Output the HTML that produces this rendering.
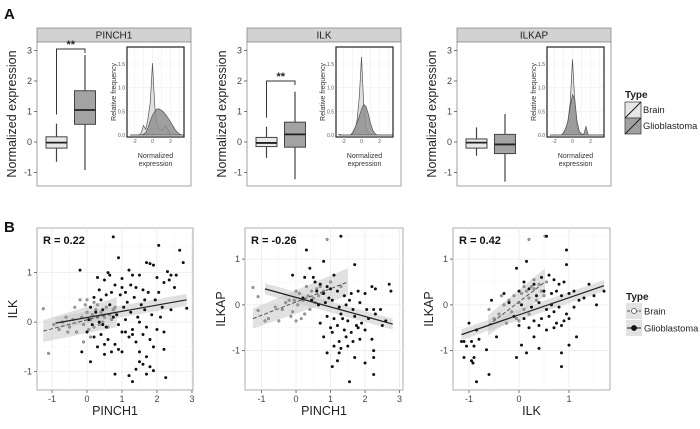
<!DOCTYPE html>
<html><head><meta charset="utf-8">
<style>
html,body{margin:0;padding:0;background:#fff;}
svg{display:block;font-family:"Liberation Sans",Arial,sans-serif;}
</style></head>
<body>
<svg id="fig" width="700" height="429" viewBox="0 0 700 429" xmlns="http://www.w3.org/2000/svg"></svg>
<script>
// ---------- DATA ----------
const boxGenes = ["PINCH1","ILK","ILKAP"];
// [lowWhisker, q1, median, q3, highWhisker]
const brainBox = [[-0.65,-0.2,-0.02,0.17,0.6],[-0.52,-0.15,-0.03,0.15,0.5],[-0.45,-0.2,-0.02,0.1,0.48]];
const glioBox  = [[-0.92,0.58,1.05,1.68,2.85],[-1.22,-0.17,0.25,0.65,1.65],[-1.3,-0.38,-0.08,0.25,0.92]];
const sigLabels = ["**","**",""];
const bracketTop = [3.05,2.0,null];
const yTicksBox = [-1,0,1,2,3];
// density insets
const densX = [-2.5,-2.25,-2,-1.75,-1.5,-1.25,-1,-0.75,-0.5,-0.25,0,0.25,0.5,0.75,1,1.25,1.5,1.75,2,2.25,2.5,2.75,3,3.25,3.5];
const densBrain = [
 [0,0,0,0,0,0.05,0.2,0.12,0.35,0.7,1.52,0.6,0.2,0.12,0.1,0.15,0.2,0.1,0,0,0,0,0,0,0],
 [0.02,0,0,0,0,0,0.02,0.1,0.3,0.8,1.65,0.6,0.15,0.05,0,0,0,0,0,0,0,0,0,0,0],
 [0,0,0,0,0,0,0.02,0.1,0.3,0.7,1.6,0.7,0.15,0.03,0,0,0,0,0,0,0,0,0,0,0]];
const densGlio = [
 [0,0,0,0,0,0,0.02,0.05,0.15,0.3,0.42,0.5,0.55,0.55,0.52,0.48,0.42,0.35,0.28,0.2,0.12,0.06,0.02,0,0],
 [0,0,0,0,0,0,0.05,0.15,0.25,0.4,0.55,0.65,0.6,0.45,0.25,0.1,0.03,0,0,0,0,0,0,0,0],
 [0,0,0,0,0,0,0.05,0.15,0.3,0.6,0.85,0.75,0.3,0.08,0.02,0.02,0.18,0,0,0,0,0,0,0,0]];
const densYTicks = ["0.0","0.5","1.0","1.5"];
const densXTicks = [-2,0,2];

// scatter panels
const scatXLabels = ["PINCH1","PINCH1","ILK"];
const scatYLabels = ["ILK","ILKAP","ILKAP"];
const scatR = ["R = 0.22","R = -0.26","R = 0.42"];
const scatXTicks = [[-1,0,1,2,3],[-1,0,1,2,3],[-1,0,1]];
const scatYTicks = [[-1,0,1],[-1,0,1],[-1,0,1]];
const glio1 = [[0.75,1.72],[1.8,1.18],[2.65,1.45],[2.75,1.2],[2.05,1.55],[2.3,1.02],[0.9,1.3],[1.2,1.05],[1.5,0.95],[1.7,1.2],[1.9,1.15],[0.3,0.9],[0.5,0.85],[0.6,1.0],[0.8,0.75],[1.0,0.88],[1.1,0.6],[1.3,0.95],[1.4,0.7],[1.6,0.65],[2.0,0.9],[2.2,0.8],[2.4,0.95],[2.5,0.7],[0.2,0.5],[0.4,0.45],[0.7,0.6],[0.95,0.55],[1.15,0.4],[1.35,0.5],[1.55,0.35],[1.75,0.6],[1.95,0.45],[2.15,0.3],[2.35,0.85],[0.1,0.3],[0.25,0.2],[0.45,0.25],[0.65,0.35],[0.85,0.15],[1.05,0.3],[1.25,0.2],[1.45,0.1],[1.65,0.25],[1.85,0.15],[0.05,0.05],[0.15,-0.05],[0.35,0.0],[0.55,-0.1],[0.75,0.1],[0.9,-0.05],[1.1,0.05],[1.3,-0.15],[1.5,0.0],[1.7,-0.1],[2.1,0.1],[2.4,0.25],[2.85,0.28],[0.0,-0.2],[0.2,-0.3],[0.4,-0.25],[0.6,-0.35],[0.8,-0.45],[1.0,-0.2],[1.2,-0.3],[1.4,-0.4],[1.6,-0.25],[1.8,-0.35],[2.0,-0.15],[0.3,-0.5],[0.5,-0.45],[0.7,-0.6],[0.9,-0.55],[1.1,-0.2],[1.3,-0.25],[1.5,-0.6],[1.7,-0.7],[1.9,-0.5],[2.2,-0.55],[1.2,-1.08],[1.4,-0.95],[1.6,-0.85],[1.8,-0.9],[1.3,-1.2],[1.5,-0.8],[1.7,-1.05],[0.8,-1.05],[1.9,-0.98],[2.25,-1.12],[1.0,-0.6],[0.1,-0.8],[0.5,-0.65],[-0.2,1.05],[-0.15,-0.6],[0.35,0.65],[0.55,0.55],[1.0,0.7],[2.05,0.6],[2.55,0.95],[1.25,0.75],[0.65,0.95],[0.45,-0.05],[1.65,0.45],[2.2,-0.2]];
const brain1 = [[-1.25,0.27],[-1.1,-0.63],[-0.95,-0.05],[-0.8,-0.15],[-0.7,0.0],[-0.6,0.1],[-0.5,-0.1],[-0.4,0.05],[-0.3,-0.2],[-0.2,0.45],[-0.15,0.1],[-0.1,-0.05],[0.0,0.2],[0.05,-0.15],[0.1,0.05],[0.15,0.15],[0.2,-0.1],[0.25,0.25],[0.3,0.1],[0.35,-0.05],[0.4,0.2],[0.45,0.0],[0.5,0.1],[0.55,0.3],[0.6,-0.1],[0.65,0.15],[0.7,0.05],[0.75,0.25],[0.8,0.3],[-0.05,0.35],[0.1,-0.3],[0.3,0.35],[-0.35,0.3],[-0.55,-0.2],[0.2,0.4],[-0.1,-0.4],[0.0,0.45]];
const glio2 = [[1.3,1.5],[0.3,1.2],[0.8,0.95],[1.7,0.88],[-0.1,0.65],[0.4,0.8],[0.25,0.6],[0.55,0.5],[0.7,0.45],[0.9,0.4],[1.1,0.65],[1.2,0.3],[0.6,0.3],[0.8,0.25],[1.0,0.35],[1.4,0.2],[1.6,0.25],[1.8,0.3],[2.0,0.25],[2.2,0.4],[2.3,0.35],[2.7,0.45],[2.75,0.3],[0.2,0.15],[0.45,0.1],[0.65,0.0],[0.85,0.05],[1.05,0.1],[1.25,-0.05],[1.45,0.0],[1.65,-0.1],[1.85,0.05],[2.05,-0.1],[2.25,-0.1],[2.45,-0.1],[2.6,-0.35],[0.9,-0.25],[1.1,-0.3],[1.3,-0.2],[1.5,-0.35],[1.7,-0.25],[1.9,-0.4],[2.1,-0.3],[2.3,-0.2],[2.5,-0.45],[0.7,-0.4],[1.0,-0.5],[1.2,-0.45],[1.4,-0.55],[1.6,-0.6],[1.8,-0.5],[2.0,-0.55],[2.2,-0.75],[0.8,-0.7],[1.05,-0.6],[1.25,-0.8],[1.45,-0.7],[1.65,-0.8],[1.85,-0.75],[1.1,-0.9],[1.3,-0.95],[1.5,-0.9],[1.7,-1.15],[2.25,-1.0],[0.9,-1.05],[1.25,-1.05],[1.2,-1.22],[2.25,-1.15],[1.05,-1.35],[1.55,-1.68],[2.0,-1.27],[2.25,-1.52],[1.35,-0.3],[1.55,0.1],[0.95,0.15],[1.75,-0.45],[0.5,0.6]];
const brain2 = [[-1.25,0.38],[-1.1,0.18],[-1.1,-0.12],[-0.9,-0.35],[-0.8,-0.3],[-0.6,-0.05],[-0.5,-0.35],[-0.4,-0.1],[-0.3,0.05],[-0.2,0.1],[-0.1,-0.15],[0.0,0.3],[0.0,-0.35],[0.05,0.0],[0.1,0.25],[0.15,-0.3],[0.2,0.1],[0.3,0.4],[0.35,0.2],[0.4,-0.1],[0.45,0.3],[0.5,0.15],[0.6,0.35],[0.65,0.2],[0.7,0.4],[0.75,0.25],[0.8,0.3],[0.9,1.43],[1.0,0.5],[1.3,0.4],[-0.05,0.1],[0.25,-0.2],[0.55,0.05],[-0.15,-0.25]];
const glio3 = [[0.55,1.5],[0.95,1.2],[0.95,0.88],[0.15,0.95],[-0.05,0.8],[0.1,0.5],[0.3,0.45],[0.45,0.6],[0.6,0.65],[0.7,0.55],[0.8,0.45],[0.9,0.5],[0.0,0.3],[0.2,0.35],[0.35,0.2],[0.5,0.3],[0.65,0.25],[0.75,0.3],[0.85,0.2],[1.0,0.25],[1.1,0.3],[1.2,0.1],[1.3,0.15],[1.4,0.45],[1.5,0.2],[1.7,0.3],[-0.3,0.25],[-0.55,0.1],[-0.2,0.05],[0.05,0.0],[0.25,-0.05],[0.4,0.05],[0.55,-0.1],[0.7,-0.15],[0.8,-0.05],[0.95,-0.2],[1.1,-0.05],[-0.1,-0.25],[0.1,-0.3],[0.3,-0.35],[0.45,-0.3],[0.6,-0.25],[0.75,-0.4],[0.9,-0.35],[1.0,-0.3],[0.2,-0.5],[0.4,-0.45],[0.55,-0.55],[0.7,-0.5],[0.85,-0.45],[-0.45,-0.7],[0.3,-0.7],[1.15,-0.7],[-0.8,-0.75],[-0.95,-0.8],[-1.1,-0.8],[-1.15,-0.8],[-1.0,-0.4],[-0.85,-0.55],[-0.9,-0.9],[-1.05,-0.9],[-1.1,-1.15],[-0.9,-1.15],[-0.95,-1.22],[-0.92,-1.27],[-0.65,-0.98],[-0.85,-1.68],[-0.6,-1.52],[-0.05,-1.15],[0.05,-0.88],[0.15,-1.05],[0.4,-0.95],[0.85,-1.05],[0.85,-1.35],[1.0,-0.88],[1.55,0.0],[0.65,0.0],[0.0,-0.45]];
const brain3 = [[0.2,1.43],[0.52,1.5],[-0.6,-0.1],[-0.5,-0.3],[-0.4,-0.2],[-0.3,0.0],[-0.2,0.1],[-0.15,-0.15],[-0.1,0.2],[-0.05,-0.3],[0.0,0.05],[0.05,0.25],[0.1,-0.1],[0.15,0.3],[0.2,0.15],[0.25,0.4],[0.3,0.35],[0.35,0.1],[0.4,0.45],[0.45,0.3],[0.5,0.2],[0.55,0.5],[-0.25,-0.4],[0.0,-0.35],[0.1,0.4],[0.3,0.55],[-0.35,0.2],[0.2,-0.2]];
// fit lines [x0,y0,x1,y1]
const fitGlio = [[-0.9,-0.02,2.85,0.45],[-0.9,0.35,2.8,-0.42],[-1.15,-0.65,1.7,0.42]];
const fitBrain = [[-1.25,-0.18,0.85,0.2],[-1.25,-0.3,1.5,0.5],[-0.62,-0.45,0.52,0.5]];

// ---------- HELPERS ----------
const NS="http://www.w3.org/2000/svg";
const svg=document.getElementById('fig');
function el(tag,attrs,parent,text){const e=document.createElementNS(NS,tag);for(const k in attrs)e.setAttribute(k,attrs[k]);if(text!==undefined)e.textContent=text;(parent||svg).appendChild(e);return e;}
function lin(d0,d1,r0,r1){return v=>r0+(v-d0)*(r1-r0)/(d1-d0);}

let t=el('text',{x:4,y:19,'font-size':15,'font-weight':'bold',fill:'#111'},svg,'A');


t=el('text',{x:4,y:232,'font-size':15,'font-weight':'bold',fill:'#111'},svg,'B');



// ---------- BOX PANELS ----------
const boxPanelX=[37,247,457];
const insetX=[127,336,547];
boxGenes.forEach((g,i)=>{
  const px=boxPanelX[i], pw=154, top=42, bot=186;
  const grp=el('g',{});
  
  
  const y=lin(0,1,142,111.5);
  let h=el('rect',{x:px,y:28,width:pw,height:14,fill:'#d2d2d2',stroke:'#8a8a8a','stroke-width':0.8},grp);
  
  
  let ht=el('text',{x:px+pw/2,y:38.5,'font-size':10,'text-anchor':'middle',fill:'#222'},grp,g);
  
  
  el('rect',{x:px,y:top,width:pw,height:bot-top,fill:'#fff',stroke:'#8a8a8a','stroke-width':0.8},grp);
  yTicksBox.forEach(v=>{
    el('line',{x1:px-3,x2:px,y1:y(v),y2:y(v),stroke:'#555','stroke-width':0.8},grp);
    const tl=el('text',{x:px-5,y:y(v)+3,'font-size':9,'text-anchor':'end',fill:'#444'},grp,String(v));
    
    
  });
  const yl=el('text',{transform:`translate(${px-21},${114}) rotate(-90)`,'font-size':12.5,'text-anchor':'middle',fill:'#222'},grp,'Normalized expression');
  
  
  const centers=[px+19.5,px+48];
  [[brainBox[i],'#e8e8e8','brain'],[glioBox[i],'#a3a3a3','glioblastoma']].forEach(([b,fill,nm],k)=>{
    const cx=centers[k], w=21;
    const bg=el('g',{},grp);
    
    
    el('line',{x1:cx,x2:cx,y1:y(b[0]),y2:y(b[4]),stroke:'#444','stroke-width':1.2},bg);
    el('rect',{x:cx-w/2,y:y(b[3]),width:w,height:y(b[1])-y(b[3]),fill:fill,stroke:'#444','stroke-width':1},bg);
    el('line',{x1:cx-w/2,x2:cx+w/2,y1:y(b[2]),y2:y(b[2]),stroke:'#222','stroke-width':1.8},bg);
  });
  if(bracketTop[i]!==null){
    const bt=y(bracketTop[i]);
    const br=el('path',{d:`M${centers[0]},${y(brainBox[i][4]+0.3)} V${bt} H${centers[1]} V${bt+4}`,fill:'none',stroke:'#333','stroke-width':1},grp);
    
    
    const st=el('text',{x:(centers[0]+centers[1])/2,y:bt-1,'font-size':11,'font-weight':'bold','text-anchor':'middle',fill:'#222'},grp,sigLabels[i]);
    
    
  }
  const ix=insetX[i], iw=57, it=47, ib=137;
  const ig=el('g',{},grp);
  
  
  const dx=lin(0,2,152.5-127+ix,170.5-127+ix), dy=lin(0,1.5,135,64);
  el('rect',{x:ix,y:it,width:iw,height:ib-it,fill:'#fff'},ig);
  [-2,-1,0,1,2,3].forEach(v=>el('line',{x1:dx(v),x2:dx(v),y1:it,y2:ib,stroke:'#eee','stroke-width':0.6},ig));
  [0,0.5,1,1.5].forEach(v=>el('line',{x1:ix,x2:ix+iw,y1:dy(v),y2:dy(v),stroke:'#eee','stroke-width':0.6},ig));
  [[densBrain[i],'#dcdcdc','brain'],[densGlio[i],'#8f8f8f','glioblastoma']].forEach(([d,f,nm])=>{
    let p=`M${dx(densX[0])},${dy(0)}`;
    densX.forEach((xv,j)=>{p+=` L${dx(xv).toFixed(1)},${dy(d[j]).toFixed(1)}`;});
    p+=` L${dx(densX[densX.length-1])},${dy(0)} Z`;
    const a=el('path',{d:p,fill:f,'fill-opacity':0.85,stroke:'#555','stroke-width':0.7},ig);
    
    
  });
  el('rect',{x:ix,y:it,width:iw,height:ib-it,fill:'none',stroke:'#222','stroke-width':1.2},ig);
  densYTicks.forEach(s=>{const tl=el('text',{x:ix-2,y:dy(+s)+2,'font-size':5,'text-anchor':'end',fill:'#555'},ig,s);
    
    });
  densXTicks.forEach(v=>{const tl=el('text',{x:dx(v),y:ib+6,'font-size':5,'text-anchor':'middle',fill:'#555'},ig,String(v));
    
    });
  let a1=el('text',{transform:`translate(${ix-11},${(it+ib)/2}) rotate(-90)`,'font-size':7,'text-anchor':'middle',fill:'#333'},ig,'Relative frequency');
  
  
  let a2=el('text',{x:ix+iw/2,y:ib+21,'font-size':7,'text-anchor':'middle',fill:'#333'},ig,'Normalized');
  
  
  let a3=el('text',{x:ix+iw/2,y:ib+29,'font-size':7,'text-anchor':'middle',fill:'#333'},ig,'expression');
  
  
});

// legend A
(function(){
  const g=el('g',{});
  
  
  el('text',{x:625,y:98,'font-size':10,'font-weight':'bold',fill:'#222'},g,'Type');
  [['Brain','#e6e6e6',102],['Glioblastoma','#a0a0a0',118]].forEach(([n,f,yy])=>{
    const e=el('g',{},g);
    
    
    el('rect',{x:625,y:yy,width:16,height:16,fill:f,stroke:'#444','stroke-width':0.8},e);
    el('line',{x1:625,y1:yy+16,x2:641,y2:yy,stroke:'#222','stroke-width':1},e);
    el('text',{x:643,y:yy+11,'font-size':9.3,fill:'#222'},e,n);
  });
})();

// ---------- SCATTER PANELS ----------
const scat=[
 {l:37,r:193,xd:[-1.43,3.03],yd:[-1.37,1.9],glio:glio1,brain:brain1},
 {l:245,r:403,xd:[-1.48,3.1],yd:[-1.86,1.68],glio:glio2,brain:brain2},
 {l:453,r:610,xd:[-1.32,1.82],yd:[-1.86,1.68],glio:glio3,brain:brain3}];
scat.forEach((s,i)=>{
  const top=228,bot=390;
  const x=lin(s.xd[0],s.xd[1],s.l,s.r), y=lin(s.yd[0],s.yd[1],bot,top);
  const g=el('g',{});
  
  
  el('rect',{x:s.l,y:top,width:s.r-s.l,height:bot-top,fill:'#fff',stroke:'#999','stroke-width':0.8},g);
  scatXTicks[i].forEach(v=>{
    el('line',{x1:x(v),x2:x(v),y1:top,y2:bot,stroke:'#e8e8e8','stroke-width':0.7},g);
    if(v+0.5<s.xd[1]) el('line',{x1:x(v+0.5),x2:x(v+0.5),y1:top,y2:bot,stroke:'#f3f3f3','stroke-width':0.5},g);
    el('line',{x1:x(v),x2:x(v),y1:bot,y2:bot+3,stroke:'#555','stroke-width':0.8},g);
    const tl=el('text',{x:x(v),y:bot+12,'font-size':9,'text-anchor':'middle',fill:'#444'},g,String(v));
    
    
  });
  scatYTicks[i].forEach(v=>{
    el('line',{x1:s.l,x2:s.r,y1:y(v),y2:y(v),stroke:'#e8e8e8','stroke-width':0.7},g);
    el('line',{x1:s.l,x2:s.r,y1:y(v+0.5),y2:y(v+0.5),stroke:'#f3f3f3','stroke-width':0.5},g);
    el('line',{x1:s.l-3,x2:s.l,y1:y(v),y2:y(v),stroke:'#555','stroke-width':0.8},g);
    const tl=el('text',{x:s.l-5,y:y(v)+3,'font-size':9,'text-anchor':'end',fill:'#444'},g,String(v));
    
    
  });
  const fb=fitBrain[i], fg=fitGlio[i];
  const band=(f,w0,w1,nm)=>{const b=el('path',{d:`M${x(f[0])},${y(f[1]+w0)} L${x(f[2])},${y(f[3]+w1)} L${x(f[2])},${y(f[3]-w1)} L${x(f[0])},${y(f[1]-w0)} Z`,fill:'#c8c8c8','fill-opacity':0.55},g);
    
    };
  band(fb,0.22,0.3,'brain'); band(fg,0.12,0.12,'glioblastoma');
  s.brain.forEach(p=>{const c=el('circle',{cx:x(p[0]),cy:y(p[1]),r:1.4,fill:'#999',stroke:'#777','stroke-width':0.4},g);
    
    });
  s.glio.forEach(p=>{const c=el('circle',{cx:x(p[0]),cy:y(p[1]),r:1.5,fill:'#111'},g);
    
    });
  let lb=el('line',{x1:x(fb[0]),y1:y(fb[1]),x2:x(fb[2]),y2:y(fb[3]),stroke:'#555','stroke-width':1,'stroke-dasharray':'4,2'},g);
  
  
  let lg=el('line',{x1:x(fg[0]),y1:y(fg[1]),x2:x(fg[2]),y2:y(fg[3]),stroke:'#222','stroke-width':1.2},g);
  
  
  let rt=el('text',{x:s.l+6,y:top+16,'font-size':11,'font-weight':'bold',fill:'#111'},g,scatR[i]);
  
  
  let xt=el('text',{x:(s.l+s.r)/2,y:bot+25,'font-size':12.5,'text-anchor':'middle',fill:'#222'},g,scatXLabels[i]);
  
  
  let yt=el('text',{transform:`translate(${s.l-20},${(top+bot)/2}) rotate(-90)`,'font-size':12.5,'text-anchor':'middle',fill:'#222'},g,scatYLabels[i]);
  
  
});

// legend B
(function(){
  const g=el('g',{});
  
  
  el('text',{x:626,y:300,'font-size':10,'font-weight':'bold',fill:'#222'},g,'Type');
  [['Brain',303,true],['Glioblastoma',320,false]].forEach(([n,yy,open])=>{
    const e=el('g',{},g);
    
    
    el('rect',{x:626,y:yy,width:16,height:16,fill:'#e2e2e2'},e);
    el('line',{x1:627,x2:641,y1:yy+8,y2:yy+8,stroke:open?'#555':'#111','stroke-width':1,'stroke-dasharray':open?'3,1':''},e);
    el('circle',{cx:634,cy:yy+8,r:2.5,fill:open?'#fff':'#111',stroke:open?'#555':'#111','stroke-width':0.8},e);
    el('text',{x:644,y:yy+11.5,'font-size':9.3,fill:'#222'},e,n);
  });
})();
</script>
</body></html>
